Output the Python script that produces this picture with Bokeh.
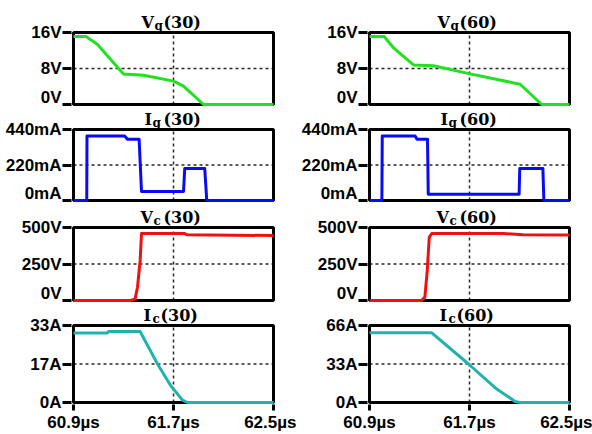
from bokeh.plotting import figure
from bokeh.layouts import column, row
from bokeh.models import Range1d, FixedTicker, Label
from bokeh.embed import file_html
from bokeh.resources import INLINE

# shared time axis (µs)
T0, T1 = 60.9, 62.5
time_ticks = [60.9, 61.7, 62.5]
time_labels = ["60.9µs", "61.7µs", "62.5µs"]

# gate voltage (V)
vg30_t = [60.9, 61.0, 61.09, 61.30, 61.46, 61.70, 61.78, 61.94, 62.5]
vg30_v = [15.1, 15.1, 13.4, 6.8, 6.5, 5.2, 4.1, 0.0, 0.0]
vg60_t = [60.9, 61.017, 61.092, 61.252, 61.412, 61.705, 62.105, 62.278, 62.5]
vg60_v = [15.1, 15.1, 12.6, 8.8, 8.6, 6.8, 4.5, 0.0, 0.0]

# gate current (mA)
ig30_t = [60.9, 61.006, 61.008, 61.31, 61.332, 61.425, 61.444, 61.78, 61.79, 61.95, 61.966, 62.5]
ig30_v = [0, 0, 399, 399, 379, 379, 56, 56, 198, 198, 0, 0]
ig60_t = [60.9, 60.999, 61.002, 61.265, 61.28, 61.364, 61.37, 62.097, 62.102, 62.287, 62.295, 62.5]
ig60_v = [0, 0, 399, 399, 379, 379, 39, 39, 198, 198, 0, 0]

# collector voltage (V)
vc30_t = [60.9, 61.358, 61.393, 61.412, 61.433, 61.444, 61.785, 61.81, 62.5]
vc30_v = [0, 0, 11, 91, 273, 459, 459, 450, 445]
vc60_t = [60.9, 61.316, 61.343, 61.362, 61.378, 61.398, 61.97, 62.13, 62.5]
vc60_v = [0, 0, 23, 205, 432, 459, 459, 450, 448]

# collector current (A)
ic30_t = [60.9, 61.17, 61.18, 61.433, 61.572, 61.678, 61.772, 61.812, 62.5]
ic30_v = [29.8, 29.8, 30.4, 30.4, 16.5, 7.2, 1.0, 0.0, 0.0]
ic60_t = [60.9, 61.398, 61.692, 61.918, 62.065, 62.105, 62.5]
ic60_v = [59.7, 59.7, 33.0, 11.5, 0.9, 0.0, 0.0]

# y-axis ticks per quantity
vg_ticks, vg_labels = [0, 8, 16], ["0V", "8V", "16V"]
ig_ticks, ig_labels = [0, 220, 440], ["0mA", "220mA", "440mA"]
vc_ticks, vc_labels = [0, 250, 500], ["0V", "250V", "500V"]
ic30_ticks, ic30_labels = [0, 16.5, 33], ["0A", "17A", "33A"]
ic60_ticks, ic60_labels = [0, 33, 66], ["0A", "33A", "66A"]

GREEN, BLUE, RED, TEAL = "#22e022", "#0a0af5", "#f01010", "#20b3ae"

BOX_W = 200          # plotting box width in px
PAD = 2              # frame margin around the box (left/right/bottom)
LABEL_FONT = "Liberation Sans"
TITLE_FONT = "DejaVu Serif"

# heading layout (px from box left): letter, subscript, run number
HEAD_POS = {
    ("V", "g"): (68, 81, 90),
    ("I", "g"): (71, 79, 90),
    ("V", "c"): (67, 80, 90),
    ("I", "c"): (70, 79, 87),
}


def panel(t, v, color, ticks, labels, letter, sub, num, box_h, title_h, with_time_axis):
    y_top = ticks[-1]
    sx = (T1 - T0) / BOX_W      # data per px, horizontal
    sy = y_top / box_h          # data per px, vertical

    p = figure(
        output_backend="svg", toolbar_location=None,
        frame_width=BOX_W + 2 * PAD, frame_height=box_h + title_h + PAD,
        min_border_left=73 - PAD, min_border_right=296 - 73 - BOX_W - PAD,
        min_border_top=0, min_border_bottom=30 if with_time_axis else 0,
        x_range=Range1d(T0 - PAD * sx, T1 + PAD * sx),
        y_range=Range1d(-PAD * sy, y_top + title_h * sy),
        x_axis_location="below" if with_time_axis else None,
        background_fill_color="white", border_fill_color="white",
    )
    p.outline_line_color = None
    p.grid.visible = False

    yax = p.yaxis[0]
    yax.ticker = FixedTicker(ticks=ticks)
    yax.major_label_overrides = {tk: lb for tk, lb in zip(ticks, labels)}
    yax.axis_line_color = None
    yax.major_tick_line_width = 3
    yax.major_tick_out = 9
    yax.major_tick_in = 0
    yax.minor_tick_line_color = None
    yax.major_label_standoff = 1
    yax.major_label_text_font = LABEL_FONT
    yax.major_label_text_font_style = "bold"
    yax.major_label_text_font_size = "17px"
    yax.major_label_text_color = "black"

    if with_time_axis:
        xax = p.xaxis[0]
        xax.ticker = FixedTicker(ticks=time_ticks)
        xax.major_label_overrides = {tk: lb for tk, lb in zip(time_ticks, time_labels)}
        xax.axis_line_color = None
        xax.major_tick_line_width = 3
        xax.major_tick_out = 6
        xax.major_tick_in = 0
        xax.minor_tick_line_color = None
        xax.major_label_standoff = 2
        xax.major_label_text_font = LABEL_FONT
        xax.major_label_text_font_style = "bold"
        xax.major_label_text_font_size = "17px"
        xax.major_label_text_color = "black"

    # dashed cross-hair through the middle tick of each axis
    mid_t, mid_y = time_ticks[1], ticks[1]
    p.segment(x0=[mid_t, T0], y0=[0, mid_y], x1=[mid_t, T1], y1=[y_top, mid_y],
              line_color="black", line_width=1.5, line_dash="3 3", line_alpha=0.85)

    # plotting box
    p.quad(left=[T0], right=[T1], bottom=[0], top=[y_top],
           fill_color=None, line_color="black", line_width=3)

    # waveform
    p.line(t, v, line_color=color, line_width=3, line_join="round")

    # panel heading: letter, subscript, run number
    lx, sbx, nx = HEAD_POS[(letter, sub)]
    common = dict(text_font=TITLE_FONT, text_font_style="bold",
                  text_baseline="alphabetic", text_color="black")
    p.add_layout(Label(x=T0 + lx * sx, y=y_top + 10.5 * sy, text=letter,
                       text_font_size="16px", **common))
    p.add_layout(Label(x=T0 + sbx * sx, y=y_top + 6.5 * sy, text=sub,
                       text_font_size="12px", **common))
    p.add_layout(Label(x=T0 + nx * sx, y=y_top + 10.5 * sy, text=num,
                       text_font_size="16px", **common))
    return p


rows_spec = [
    (vg30_t, vg30_v, vg60_t, vg60_v, GREEN, vg_ticks, vg_labels, vg_ticks, vg_labels, "V", "g", 72, 32, False),
    (ig30_t, ig30_v, ig60_t, ig60_v, BLUE, ig_ticks, ig_labels, ig_ticks, ig_labels, "I", "g", 71, 23, False),
    (vc30_t, vc30_v, vc60_t, vc60_v, RED, vc_ticks, vc_labels, vc_ticks, vc_labels, "V", "c", 73, 25, False),
    (ic30_t, ic30_v, ic60_t, ic60_v, TEAL, ic30_ticks, ic30_labels, ic60_ticks, ic60_labels, "I", "c", 77, 23, True),
]

rows = []
for (ta, va, tb, vb, col, tka, lba, tkb, lbb, letter, sub, bh, th, axis) in rows_spec:
    left = panel(ta, va, col, tka, lba, letter, sub, "(30)", bh, th, axis)
    right = panel(tb, vb, col, tkb, lbb, letter, sub, "(60)", bh, th, axis)
    rows.append(row(left, right))

layout = column(*rows)

open("out.html", "w").write(file_html(layout, INLINE))
